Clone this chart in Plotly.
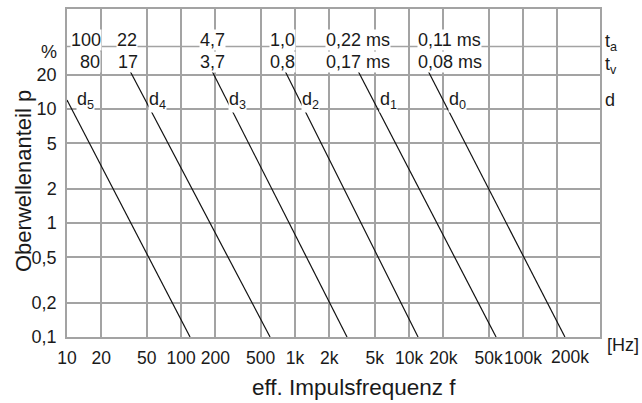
import plotly.graph_objects as go

# ---- data ----
curve_names = ["d5", "d4", "d3", "d2", "d1", "d0"]
f_start = [10, 35.7, 187, 817, 3570, 14700]        # Hz
p_start = [12.0, 21.5, 21.5, 21.5, 21.5, 21.5]     # %
f_end = [120, 604, 2858, 12000, 58000, 233000]     # Hz
p_end = [0.1, 0.1, 0.1, 0.1, 0.1, 0.1]             # %

ta_labels = ["100", "22", "4,7", "1,0", "0,22 ms", "0,11 ms"]
tv_labels = ["80", "17", "3,7", "0,8", "0,17 ms", "0,08 ms"]
d_labels = ["d<sub>5</sub>", "d<sub>4</sub>", "d<sub>3</sub>", "d<sub>2</sub>", "d<sub>1</sub>", "d<sub>0</sub>"]

x_tickvals = [10, 20, 50, 100, 200, 500, 1000, 2000, 5000, 10000, 20000, 50000, 100000, 200000]
x_ticktext = ["10", "20", "50", "100", "200", "500", "1k", "2k", "5k", "10k", "20k", "50k", "100k", "200k"]
y_tickvals = [0.1, 0.2, 0.5, 1, 2, 5, 10, 20]
y_ticktext = ["0,1", "0,2", "0,5", "1", "2", "5", "10", "20"]

# ---- layout geometry ----
W, H = 642, 403
L, R, T, B = 67, 42, 9, 66
PW, PH = W - L - R, H - T - B

def px(x):
    return (x - L) / PW

def py(y):
    return (H - B - y) / PH

FONT = "Arial, Liberation Sans, Helvetica, sans-serif"
TXT = "#1a1a1a"
GRID = "#a3a3a3"

# the last tick label sits a little to the right of its gridline in the
# reference, so it is drawn separately as a text label
x_ticktext_drawn = list(x_ticktext[:-1]) + [""]

fig = go.Figure()
for i, name in enumerate(curve_names):
    fig.add_trace(go.Scatter(
        x=[f_start[i], f_end[i]], y=[p_start[i], p_end[i]],
        mode="lines", name=name, showlegend=False,
        line=dict(color="#111111", width=1.2), hoverinfo="skip"))

annotations = []
ta_x = [86, 127, 212, 282, 358, 450]
tv_x = [90, 128, 212, 282, 358, 450]
d_x = [85, 157, 237, 310, 388, 457]

def add_text(text, x, y, xanchor="center", size=18, bg="white", angle=0):
    annotations.append(dict(
        text=text, x=px(x), y=py(y), xref="paper", yref="paper",
        xanchor=xanchor, yanchor="middle", showarrow=False,
        font=dict(family=FONT, size=size, color=TXT),
        bgcolor=bg, borderpad=0, textangle=angle))

for lab, x in zip(ta_labels, ta_x):
    add_text(lab, x, 40)
for lab, x in zip(tv_labels, tv_x):
    add_text(lab, x, 62)
for lab, x in zip(d_labels, d_x):
    add_text(lab, x, 100)

add_text("t<sub>a</sub>", 604, 43, xanchor="left", bg=None)
add_text("t<sub>v</sub>", 604, 65, xanchor="left", bg=None)
add_text("d", 604, 100, xanchor="left", bg=None)
add_text("%", 58, 52, xanchor="right", bg=None)
add_text("[Hz]", 640, 345, xanchor="right", size=18, bg=None)
add_text(x_ticktext[-1], 570, 357, size=17.5, bg=None)
add_text("eff. Impulsfrequenz f", 354, 387, size=22.5, bg=None)
add_text("Oberwellenanteil p", 23, 181, size=22, bg=None, angle=-90)

fig.update_layout(
    width=W, height=H,
    margin=dict(l=L, r=R, t=T, b=B, pad=0, autoexpand=False),
    paper_bgcolor="white", plot_bgcolor="white",
    font=dict(family=FONT, size=18, color=TXT),
    annotations=annotations,
    shapes=[dict(type="line", xref="paper", yref="paper",
                 x0=0, x1=1, y0=py(46.5), y1=py(46.5),
                 line=dict(color=GRID, width=1.5), layer="below")],
    xaxis=dict(type="log", range=[1, 5.675], automargin=False,
               tickvals=x_tickvals, ticktext=x_ticktext_drawn, tickangle=0,
               showgrid=True, gridcolor=GRID, gridwidth=1.5,
               showline=True, linecolor=GRID, linewidth=1.5, mirror=True,
               ticks="", ticklabelstandoff=4, zeroline=False,
               tickfont=dict(family=FONT, size=17.5, color=TXT)),
    yaxis=dict(type="log", range=[-1, 1.877], automargin=False,
               tickvals=y_tickvals, ticktext=y_ticktext,
               showgrid=True, gridcolor=GRID, gridwidth=1.5,
               showline=True, linecolor=GRID, linewidth=1.5, mirror=True,
               ticks="", ticklabelstandoff=5, zeroline=False,
               tickfont=dict(family=FONT, size=18, color=TXT)),
)

fig.write_html(
    "out.html",
    config={"displayModeBar": False},
    post_script="document.body.style.margin='0';document.body.style.padding='0';"
                "document.documentElement.style.overflow='hidden';",
)
